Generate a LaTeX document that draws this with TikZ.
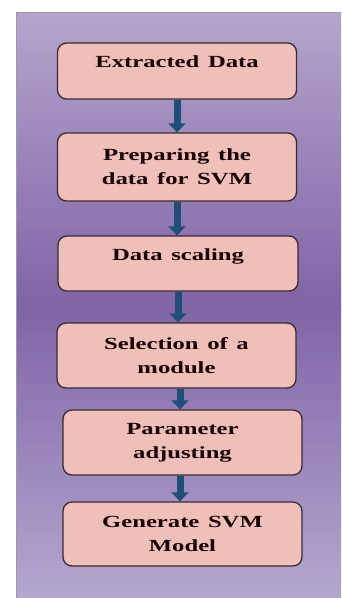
\documentclass[tikz,border=0pt]{standalone}
\usepackage{fontspec}
\setmainfont{Liberation Serif}[FakeStretch=1.45,WordSpace=1.4]
\usetikzlibrary{arrows.meta}
\definecolor{panelTop}{HTML}{B4A5CD}
\definecolor{panelMid}{HTML}{8064A6}
\definecolor{panelBot}{HTML}{B3A7CF}
\definecolor{boxFill}{HTML}{EFC0BA}
\definecolor{boxLine}{HTML}{3A2A2C}
\definecolor{arrowBlue}{HTML}{1F4E79}
\begin{document}
\begin{tikzpicture}[x=1pt,y=-1pt,
  stepbox/.style={draw=boxLine,line width=1.3pt,fill=boxFill,rounded corners=9pt,
    minimum width=239pt,inner sep=0pt,align=center,
    font=\fontsize{17}{24}\selectfont\bfseries,text=black!90!red},
  oneline/.style={text depth=18pt},
  flow/.style={draw=arrowBlue,fill=arrowBlue,line width=7pt,
    -{Triangle[width=17pt,length=9pt]}}
]
  % white page and panel shaded light-dark-light
  \fill[white] (0,0) rectangle (341,598);
  \useasboundingbox (0,0) rectangle (341,598);
  \shade[top color=panelTop,bottom color=panelMid] (16,12) rectangle (341,305);
  \shade[top color=panelMid,bottom color=panelBot] (16,304.5) rectangle (341,598);
  \draw[panelTop!60!gray,line width=0.8pt] (16,598) -- (16,12) -- (341,12);

  % process steps
  \node[stepbox,oneline,minimum height=56pt] (s1) at (177,71) {Extracted Data};
  \node[stepbox,minimum height=68pt] (s2) at (177,167) {Preparing the\\data for SVM};
  \node[stepbox,oneline,minimum height=55pt,minimum width=240pt] (s3) at (178,263.5) {Data scaling};
  \node[stepbox,minimum height=65pt] (s4) at (176.5,355.5) {Selection of a\\module};
  \node[stepbox,minimum height=65pt] (s5) at (182.5,442.5) {Parameter\\adjusting};
  \node[stepbox,minimum height=64pt] (s6) at (182.5,534) {Generate SVM\\Model};

  % connectors
  \draw[flow] (s1.south) -- (s1.south |- s2.north);
  \draw[flow] (s2.south) -- (s2.south |- s3.north);
  \draw[flow] (s3.south) -- (s3.south |- s4.north);
  \draw[flow] ([xshift=3.5pt]s4.south) -- ([xshift=3.5pt]s4.south |- s5.north);
  \draw[flow] ([xshift=-2.5pt]s5.south) -- ([xshift=-2.5pt]s5.south |- s6.north);
\end{tikzpicture}
\end{document}
